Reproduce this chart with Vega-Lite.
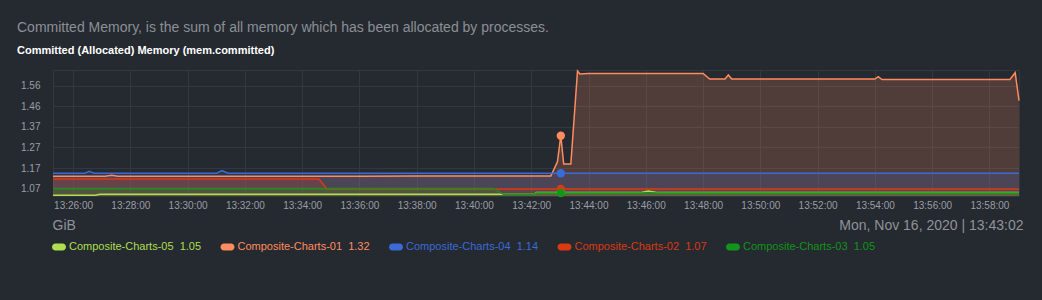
{
  "$schema": "https://vega.github.io/schema/vega-lite/v6.json",
  "autosize": {"type": "none"},
  "width": 966,
  "height": 126,
  "padding": {"left": 53, "top": 70, "right": 23, "bottom": 104},
  "background": "#252930",
  "config": {"view": {"stroke": "#33373e"}, "font": "Liberation Sans"},
  "title": {
    "text": "Committed Memory, is the sum of all memory which has been allocated by processes.",
    "subtitle": "Committed (Allocated) Memory (mem.committed)",
    "anchor": "start", "frame": "group", "dx": -36, "offset": 12,
    "font": "Liberation Sans", "fontSize": 14, "fontWeight": "normal", "color": "#8b9096",
    "subtitleFont": "Liberation Sans", "subtitleFontSize": 11, "subtitleFontWeight": "bold",
    "subtitleColor": "#ffffff", "subtitlePadding": 10
  },
  "datasets": {
    "hover": [
      {"t": "2020-11-16T13:43:02", "s": "Composite-Charts-05", "v": 1.056},
      {"t": "2020-11-16T13:43:02", "s": "Composite-Charts-01", "v": 1.3252},
      {"t": "2020-11-16T13:43:02", "s": "Composite-Charts-04", "v": 1.1474},
      {"t": "2020-11-16T13:43:02", "s": "Composite-Charts-02", "v": 1.0731},
      {"t": "2020-11-16T13:43:02", "s": "Composite-Charts-03", "v": 1.054}
    ]
  },
  "data": {
    "values": [
      {"t": "2020-11-16T13:25:18", "s": "Composite-Charts-05", "v": 1.0433},
      {"t": "2020-11-16T13:26:00", "s": "Composite-Charts-05", "v": 1.0433},
      {"t": "2020-11-16T13:26:46", "s": "Composite-Charts-05", "v": 1.0433},
      {"t": "2020-11-16T13:26:57", "s": "Composite-Charts-05", "v": 1.048},
      {"t": "2020-11-16T13:28:00", "s": "Composite-Charts-05", "v": 1.048},
      {"t": "2020-11-16T13:30:00", "s": "Composite-Charts-05", "v": 1.048},
      {"t": "2020-11-16T13:32:00", "s": "Composite-Charts-05", "v": 1.048},
      {"t": "2020-11-16T13:34:00", "s": "Composite-Charts-05", "v": 1.048},
      {"t": "2020-11-16T13:36:00", "s": "Composite-Charts-05", "v": 1.048},
      {"t": "2020-11-16T13:38:00", "s": "Composite-Charts-05", "v": 1.048},
      {"t": "2020-11-16T13:40:00", "s": "Composite-Charts-05", "v": 1.048},
      {"t": "2020-11-16T13:42:00", "s": "Composite-Charts-05", "v": 1.048},
      {"t": "2020-11-16T13:42:06", "s": "Composite-Charts-05", "v": 1.048},
      {"t": "2020-11-16T13:42:11", "s": "Composite-Charts-05", "v": 1.056},
      {"t": "2020-11-16T13:43:02", "s": "Composite-Charts-05", "v": 1.056},
      {"t": "2020-11-16T13:44:00", "s": "Composite-Charts-05", "v": 1.056},
      {"t": "2020-11-16T13:45:48", "s": "Composite-Charts-05", "v": 1.056},
      {"t": "2020-11-16T13:46:05", "s": "Composite-Charts-05", "v": 1.0637},
      {"t": "2020-11-16T13:46:26", "s": "Composite-Charts-05", "v": 1.056},
      {"t": "2020-11-16T13:48:00", "s": "Composite-Charts-05", "v": 1.056},
      {"t": "2020-11-16T13:50:00", "s": "Composite-Charts-05", "v": 1.056},
      {"t": "2020-11-16T13:52:00", "s": "Composite-Charts-05", "v": 1.056},
      {"t": "2020-11-16T13:54:00", "s": "Composite-Charts-05", "v": 1.056},
      {"t": "2020-11-16T13:56:00", "s": "Composite-Charts-05", "v": 1.056},
      {"t": "2020-11-16T13:58:00", "s": "Composite-Charts-05", "v": 1.056},
      {"t": "2020-11-16T13:59:02", "s": "Composite-Charts-05", "v": 1.056},
      {"t": "2020-11-16T13:25:18", "s": "Composite-Charts-01", "v": 1.1332},
      {"t": "2020-11-16T13:26:00", "s": "Composite-Charts-01", "v": 1.1332},
      {"t": "2020-11-16T13:27:07", "s": "Composite-Charts-01", "v": 1.1332},
      {"t": "2020-11-16T13:27:21", "s": "Composite-Charts-01", "v": 1.1379},
      {"t": "2020-11-16T13:27:34", "s": "Composite-Charts-01", "v": 1.1332},
      {"t": "2020-11-16T13:28:00", "s": "Composite-Charts-01", "v": 1.1332},
      {"t": "2020-11-16T13:30:00", "s": "Composite-Charts-01", "v": 1.1334},
      {"t": "2020-11-16T13:32:00", "s": "Composite-Charts-01", "v": 1.1336},
      {"t": "2020-11-16T13:34:00", "s": "Composite-Charts-01", "v": 1.1338},
      {"t": "2020-11-16T13:36:00", "s": "Composite-Charts-01", "v": 1.134},
      {"t": "2020-11-16T13:38:00", "s": "Composite-Charts-01", "v": 1.1342},
      {"t": "2020-11-16T13:40:00", "s": "Composite-Charts-01", "v": 1.1344},
      {"t": "2020-11-16T13:42:00", "s": "Composite-Charts-01", "v": 1.1346},
      {"t": "2020-11-16T13:42:41", "s": "Composite-Charts-01", "v": 1.1346},
      {"t": "2020-11-16T13:42:55", "s": "Composite-Charts-01", "v": 1.2023},
      {"t": "2020-11-16T13:43:02", "s": "Composite-Charts-01", "v": 1.3252},
      {"t": "2020-11-16T13:43:08", "s": "Composite-Charts-01", "v": 1.1914},
      {"t": "2020-11-16T13:43:23", "s": "Composite-Charts-01", "v": 1.1914},
      {"t": "2020-11-16T13:43:37", "s": "Composite-Charts-01", "v": 1.6313},
      {"t": "2020-11-16T13:43:42", "s": "Composite-Charts-01", "v": 1.6171},
      {"t": "2020-11-16T13:44:00", "s": "Composite-Charts-01", "v": 1.619},
      {"t": "2020-11-16T13:46:00", "s": "Composite-Charts-01", "v": 1.6195},
      {"t": "2020-11-16T13:48:00", "s": "Composite-Charts-01", "v": 1.6195},
      {"t": "2020-11-16T13:48:14", "s": "Composite-Charts-01", "v": 1.5935},
      {"t": "2020-11-16T13:48:46", "s": "Composite-Charts-01", "v": 1.5935},
      {"t": "2020-11-16T13:48:53", "s": "Composite-Charts-01", "v": 1.6124},
      {"t": "2020-11-16T13:49:00", "s": "Composite-Charts-01", "v": 1.5935},
      {"t": "2020-11-16T13:50:00", "s": "Composite-Charts-01", "v": 1.5935},
      {"t": "2020-11-16T13:52:00", "s": "Composite-Charts-01", "v": 1.5932},
      {"t": "2020-11-16T13:54:00", "s": "Composite-Charts-01", "v": 1.593},
      {"t": "2020-11-16T13:54:07", "s": "Composite-Charts-01", "v": 1.6043},
      {"t": "2020-11-16T13:54:15", "s": "Composite-Charts-01", "v": 1.5911},
      {"t": "2020-11-16T13:56:00", "s": "Composite-Charts-01", "v": 1.5911},
      {"t": "2020-11-16T13:58:00", "s": "Composite-Charts-01", "v": 1.5911},
      {"t": "2020-11-16T13:58:43", "s": "Composite-Charts-01", "v": 1.5911},
      {"t": "2020-11-16T13:58:54", "s": "Composite-Charts-01", "v": 1.6233},
      {"t": "2020-11-16T13:59:02", "s": "Composite-Charts-01", "v": 1.4908},
      {"t": "2020-11-16T13:25:18", "s": "Composite-Charts-04", "v": 1.1474},
      {"t": "2020-11-16T13:26:00", "s": "Composite-Charts-04", "v": 1.1474},
      {"t": "2020-11-16T13:26:25", "s": "Composite-Charts-04", "v": 1.1474},
      {"t": "2020-11-16T13:26:34", "s": "Composite-Charts-04", "v": 1.1568},
      {"t": "2020-11-16T13:26:44", "s": "Composite-Charts-04", "v": 1.1474},
      {"t": "2020-11-16T13:28:00", "s": "Composite-Charts-04", "v": 1.1474},
      {"t": "2020-11-16T13:30:00", "s": "Composite-Charts-04", "v": 1.1474},
      {"t": "2020-11-16T13:31:01", "s": "Composite-Charts-04", "v": 1.1474},
      {"t": "2020-11-16T13:31:12", "s": "Composite-Charts-04", "v": 1.1597},
      {"t": "2020-11-16T13:31:25", "s": "Composite-Charts-04", "v": 1.1474},
      {"t": "2020-11-16T13:32:00", "s": "Composite-Charts-04", "v": 1.1474},
      {"t": "2020-11-16T13:34:00", "s": "Composite-Charts-04", "v": 1.1474},
      {"t": "2020-11-16T13:36:00", "s": "Composite-Charts-04", "v": 1.1474},
      {"t": "2020-11-16T13:38:00", "s": "Composite-Charts-04", "v": 1.1474},
      {"t": "2020-11-16T13:40:00", "s": "Composite-Charts-04", "v": 1.1474},
      {"t": "2020-11-16T13:42:00", "s": "Composite-Charts-04", "v": 1.1474},
      {"t": "2020-11-16T13:43:02", "s": "Composite-Charts-04", "v": 1.1474},
      {"t": "2020-11-16T13:44:00", "s": "Composite-Charts-04", "v": 1.1474},
      {"t": "2020-11-16T13:46:00", "s": "Composite-Charts-04", "v": 1.1474},
      {"t": "2020-11-16T13:48:00", "s": "Composite-Charts-04", "v": 1.1474},
      {"t": "2020-11-16T13:50:00", "s": "Composite-Charts-04", "v": 1.1474},
      {"t": "2020-11-16T13:52:00", "s": "Composite-Charts-04", "v": 1.1474},
      {"t": "2020-11-16T13:54:00", "s": "Composite-Charts-04", "v": 1.1474},
      {"t": "2020-11-16T13:56:00", "s": "Composite-Charts-04", "v": 1.1474},
      {"t": "2020-11-16T13:58:00", "s": "Composite-Charts-04", "v": 1.1474},
      {"t": "2020-11-16T13:59:02", "s": "Composite-Charts-04", "v": 1.1474},
      {"t": "2020-11-16T13:25:18", "s": "Composite-Charts-02", "v": 1.1204},
      {"t": "2020-11-16T13:26:00", "s": "Composite-Charts-02", "v": 1.1204},
      {"t": "2020-11-16T13:28:00", "s": "Composite-Charts-02", "v": 1.1204},
      {"t": "2020-11-16T13:30:00", "s": "Composite-Charts-02", "v": 1.1204},
      {"t": "2020-11-16T13:32:00", "s": "Composite-Charts-02", "v": 1.1204},
      {"t": "2020-11-16T13:34:00", "s": "Composite-Charts-02", "v": 1.1204},
      {"t": "2020-11-16T13:34:35", "s": "Composite-Charts-02", "v": 1.1204},
      {"t": "2020-11-16T13:34:52", "s": "Composite-Charts-02", "v": 1.0731},
      {"t": "2020-11-16T13:36:00", "s": "Composite-Charts-02", "v": 1.0731},
      {"t": "2020-11-16T13:38:00", "s": "Composite-Charts-02", "v": 1.0731},
      {"t": "2020-11-16T13:40:00", "s": "Composite-Charts-02", "v": 1.0731},
      {"t": "2020-11-16T13:42:00", "s": "Composite-Charts-02", "v": 1.0731},
      {"t": "2020-11-16T13:43:02", "s": "Composite-Charts-02", "v": 1.0731},
      {"t": "2020-11-16T13:44:00", "s": "Composite-Charts-02", "v": 1.0731},
      {"t": "2020-11-16T13:46:00", "s": "Composite-Charts-02", "v": 1.0731},
      {"t": "2020-11-16T13:48:00", "s": "Composite-Charts-02", "v": 1.0731},
      {"t": "2020-11-16T13:50:00", "s": "Composite-Charts-02", "v": 1.0731},
      {"t": "2020-11-16T13:52:00", "s": "Composite-Charts-02", "v": 1.0731},
      {"t": "2020-11-16T13:54:00", "s": "Composite-Charts-02", "v": 1.0731},
      {"t": "2020-11-16T13:56:00", "s": "Composite-Charts-02", "v": 1.0731},
      {"t": "2020-11-16T13:58:00", "s": "Composite-Charts-02", "v": 1.0731},
      {"t": "2020-11-16T13:59:02", "s": "Composite-Charts-02", "v": 1.0731},
      {"t": "2020-11-16T13:25:18", "s": "Composite-Charts-03", "v": 1.076},
      {"t": "2020-11-16T13:26:00", "s": "Composite-Charts-03", "v": 1.076},
      {"t": "2020-11-16T13:28:00", "s": "Composite-Charts-03", "v": 1.076},
      {"t": "2020-11-16T13:30:00", "s": "Composite-Charts-03", "v": 1.076},
      {"t": "2020-11-16T13:32:00", "s": "Composite-Charts-03", "v": 1.076},
      {"t": "2020-11-16T13:34:00", "s": "Composite-Charts-03", "v": 1.076},
      {"t": "2020-11-16T13:36:00", "s": "Composite-Charts-03", "v": 1.076},
      {"t": "2020-11-16T13:38:00", "s": "Composite-Charts-03", "v": 1.076},
      {"t": "2020-11-16T13:40:00", "s": "Composite-Charts-03", "v": 1.076},
      {"t": "2020-11-16T13:40:40", "s": "Composite-Charts-03", "v": 1.076},
      {"t": "2020-11-16T13:41:02", "s": "Composite-Charts-03", "v": 1.048},
      {"t": "2020-11-16T13:42:00", "s": "Composite-Charts-03", "v": 1.048},
      {"t": "2020-11-16T13:42:06", "s": "Composite-Charts-03", "v": 1.048},
      {"t": "2020-11-16T13:42:11", "s": "Composite-Charts-03", "v": 1.054},
      {"t": "2020-11-16T13:43:02", "s": "Composite-Charts-03", "v": 1.054},
      {"t": "2020-11-16T13:44:00", "s": "Composite-Charts-03", "v": 1.054},
      {"t": "2020-11-16T13:46:00", "s": "Composite-Charts-03", "v": 1.054},
      {"t": "2020-11-16T13:48:00", "s": "Composite-Charts-03", "v": 1.054},
      {"t": "2020-11-16T13:50:00", "s": "Composite-Charts-03", "v": 1.054},
      {"t": "2020-11-16T13:52:00", "s": "Composite-Charts-03", "v": 1.054},
      {"t": "2020-11-16T13:54:00", "s": "Composite-Charts-03", "v": 1.054},
      {"t": "2020-11-16T13:56:00", "s": "Composite-Charts-03", "v": 1.054},
      {"t": "2020-11-16T13:58:00", "s": "Composite-Charts-03", "v": 1.054},
      {"t": "2020-11-16T13:59:02", "s": "Composite-Charts-03", "v": 1.054}
    ]
  },
  "encoding": {
    "x": {
      "field": "t", "type": "temporal",
      "scale": {"nice": false},
      "axis": {
        "title": "Mon, Nov 16, 2020 | 13:43:02",
        "format": "%H:%M:%S",
        "labelExpr": "minutes(datum.value) % 2 == 0 ? datum.label : ''",
        "gridOpacity": {"condition": {"test": "minutes(datum.value) % 2 == 0", "value": 1}, "value": 0},
        "grid": true, "gridColor": "#33373e",
        "domain": false, "ticks": false,
        "labelFont": "Liberation Sans", "labelFontSize": 10, "labelColor": "#9a9ea4",
        "labelPadding": 4,
        "titleFont": "Liberation Sans", "titleFontSize": 14, "titleFontWeight": "normal",
        "titleColor": "#8f9398", "titleX": 970, "titleY": 29, "titleAlign": "right",
        "titleBaseline": "middle"
      }
    },
    "y": {
      "field": "v", "type": "quantitative", "stack": null,
      "scale": {"domain": [1.04, 1.636], "zero": false, "nice": false},
      "axis": {
        "values": [1.0742, 1.1719, 1.2695, 1.3672, 1.4648, 1.5624],
        "format": ".2f",
        "grid": true, "gridColor": "#33373e",
        "domain": false, "ticks": false,
        "labelFont": "Liberation Sans", "labelFontSize": 10, "labelColor": "#9a9ea4",
        "labelPadding": 13,
        "title": "GiB", "titleAngle": 0, "titleX": -1, "titleY": 155,
        "titleAlign": "left", "titleBaseline": "middle",
        "titleFont": "Liberation Sans", "titleFontSize": 14, "titleFontWeight": "normal",
        "titleColor": "#8f9398"
      }
    },
    "color": {
      "field": "s", "type": "nominal",
      "scale": {
        "domain": ["Composite-Charts-05", "Composite-Charts-01", "Composite-Charts-04", "Composite-Charts-02", "Composite-Charts-03"],
        "range": ["#addf4e", "#ff8c5e", "#3a6bd6", "#dc3912", "#109618"]
      },
      "legend": {
        "orient": "none", "legendX": -1, "legendY": 170,
        "direction": "horizontal", "columns": 5, "columnPadding": 18.5,
        "title": null,
        "symbolType": "M-0.5,-0.5L0.5,-0.5A0.5,0.5 0 0 1 0.5,0.5L-0.5,0.5A0.5,0.5 0 0 1 -0.5,-0.5Z",
        "symbolSize": 196,
        "labelFont": "Liberation Sans", "labelFontSize": 11, "labelOffset": 3, "labelLimit": 300,
        "labelExpr": "datum.label + '\u00a0 ' + (datum.label == 'Composite-Charts-05' ? '1.05' : datum.label == 'Composite-Charts-01' ? '1.32' : datum.label == 'Composite-Charts-04' ? '1.14' : datum.label == 'Composite-Charts-02' ? '1.07' : '1.05')",
        "encode": {
          "symbols": {"update": {"fill": {"signal": "scale('color', datum.value)"}, "fillOpacity": {"value": 1}, "strokeWidth": {"value": 0}}},
          "labels": {"update": {"fill": {"signal": "scale('color', datum.value)"}}}
        }
      }
    }
  },
  "layer": [
    {"mark": {"type": "area", "fillOpacity": 0.2}},
    {"mark": {"type": "line", "strokeWidth": 1.5}},
    {"data": {"name": "hover"}, "mark": {"type": "circle", "size": 70, "opacity": 1}}
  ]
}
